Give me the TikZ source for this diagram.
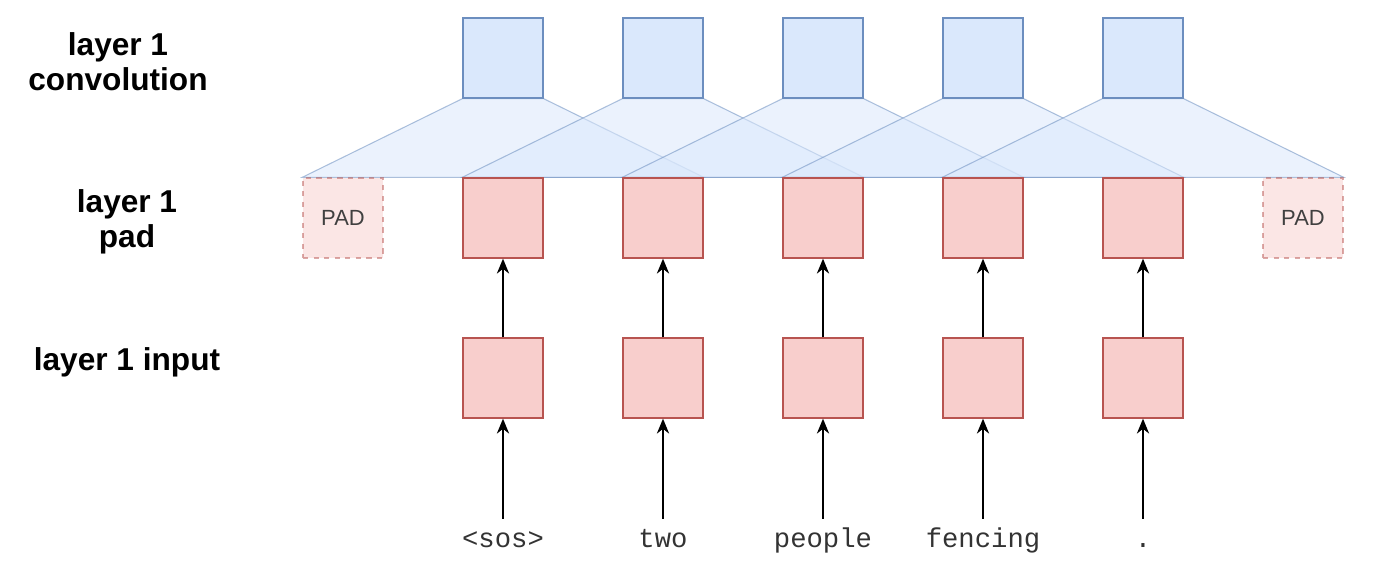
\documentclass[tikz,border=0pt]{standalone}
\usepackage{fontspec}
\setmainfont{Liberation Sans}
\setmonofont{Liberation Mono}
\usetikzlibrary{arrows.meta, backgrounds}
\definecolor{convfill}{HTML}{DAE8FC}
\definecolor{convline}{HTML}{6C8EBF}
\definecolor{tokfill}{HTML}{F8CECC}
\definecolor{tokline}{HTML}{B85450}

\begin{document}
\begin{tikzpicture}[x=0.02cm, y=-0.02cm,
    box/.style={line width=0.8pt, minimum size=1.6cm, inner sep=0pt},
    conv/.style={box, draw=convline, fill=convfill},
    tok/.style={box, draw=tokline, fill=tokfill},
    padbox/.style={tok, dashed, draw opacity=0.5, fill opacity=0.5, text opacity=1,
        text=black!75, font=\fontsize{12.5}{14}\selectfont},
    word/.style={font=\ttfamily\fontsize{15.5}{17}\selectfont, text=black!80,
        text height=11pt, text depth=3pt, inner sep=5pt},
    rowlabel/.style={align=center, font=\bfseries\fontsize{18}{20}\selectfont},
    kernel/.style={fill=convfill, fill opacity=0.55, draw=convline, draw opacity=0.55, line width=0.6pt},
    feed/.style={-{Stealth[length=8.5pt, width=7pt]}, line width=0.8pt}]
    \useasboundingbox (0,0) rectangle (1374,584);

    \node[rowlabel] (lconv) at (118, 62) {layer 1\\convolution};
    \node[rowlabel] (lpad) at (127, 222) {layer 1\\pad};
    \node[rowlabel] (linput) at (127, 362) {layer 1 input};

    \node[padbox] (p0) at (343, 218) {PAD};
    \node[padbox] (p6) at (1303, 218) {PAD};

    \foreach \i/\w in {1/{<sos>}, 2/two, 3/people, 4/fencing, 5/.} {
        \node[conv] (c\i) at (343+160*\i, 58) {};
        \node[tok] (p\i) at (343+160*\i, 218) {};
        \node[tok] (in\i) at (343+160*\i, 378) {};
        \node[word] (w\i) at (343+160*\i, 540) {\w};
        \draw[feed] (w\i) -- (in\i);
        \draw[feed] (in\i) -- (p\i);
    }

    % receptive fields of each convolution
    \begin{scope}[on background layer]
        \foreach \i [evaluate=\i as \l using int(\i-1), evaluate=\i as \r using int(\i+1)] in {1,...,5}
            \draw[kernel] (c\i.south west) -- (c\i.south east) -- (p\r.north east)
                -- (p\l.north west) -- cycle;
    \end{scope}
\end{tikzpicture}
\end{document}
